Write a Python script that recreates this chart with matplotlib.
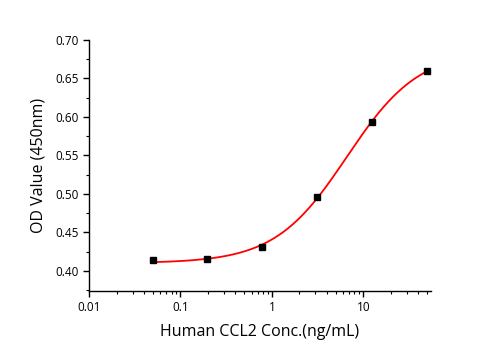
import numpy as np
import matplotlib; matplotlib.use('Agg')
import matplotlib.pyplot as plt
from matplotlib.ticker import LogLocator, MultipleLocator, FixedLocator, FixedFormatter

plt.rcParams.update({'font.family': ['Open Sans', 'DejaVu Sans'], 'font.size': 8})

conc = [0.05, 0.195, 0.78, 3.125, 12.5, 50]
od = [0.414, 0.415, 0.431, 0.4965, 0.5935, 0.660]

# 4PL fit: grid over C, B; A, D solved by linear least squares
x = np.array(conc); y = np.array(od)
best = None
for C in np.logspace(-0.5, 2, 300):
    for B in np.linspace(0.5, 3, 126):
        g = 1 / (1 + (x / C) ** B)
        M = np.column_stack([g, 1 - g])
        coef, *_ = np.linalg.lstsq(M, y, rcond=None)
        r = np.sum((M @ coef - y) ** 2)
        if best is None or r < best[0]:
            best = (r, C, B, coef)
_, C, B, (A, D) = best
xf = np.logspace(np.log10(conc[0]), np.log10(conc[-1]), 300)
yf = D + (A - D) / (1 + (xf / C) ** B)

fig = plt.figure(figsize=(5.01, 3.5), dpi=100)
ax = fig.add_axes([0.1776, 0.1686, 0.6826, 0.7171])
ax.plot(xf, yf, color='#ff0000', lw=1.3, zorder=2)
ax.plot(conc, od, 's', color='black', ms=4.5, zorder=3)
ax.set_xscale('log')
ax.set_xlim(0.01, 55)
ax.set_ylim(0.374, 0.70)
ax.xaxis.set_major_locator(FixedLocator([0.01, 0.1, 1, 10]))
ax.xaxis.set_major_formatter(FixedFormatter(['0.01', '0.1', '1', '10']))
ax.xaxis.set_minor_locator(LogLocator(base=10, subs=np.arange(2, 10)))
ax.yaxis.set_major_locator(FixedLocator([0.40, 0.45, 0.50, 0.55, 0.60, 0.65, 0.70]))
ax.yaxis.set_major_formatter(FixedFormatter(['0.40', '0.45', '0.50', '0.55', '0.60', '0.65', '0.70']))
ax.yaxis.set_minor_locator(MultipleLocator(0.025))
for s in ['top', 'right']:
    ax.spines[s].set_visible(False)
for s in ['left', 'bottom']:
    ax.spines[s].set_linewidth(1.0)
ax.tick_params(which='major', length=4, width=1, direction='out', labelsize=8.5)
ax.tick_params(which='minor', length=2.5, width=0.8, direction='out')
ax.set_xlabel('Human CCL2 Conc.(ng/mL)', fontsize=11.5, labelpad=7)
ax.set_ylabel('OD Value (450nm)', fontsize=11.5, labelpad=6)
fig.savefig('out.png', dpi=100)
